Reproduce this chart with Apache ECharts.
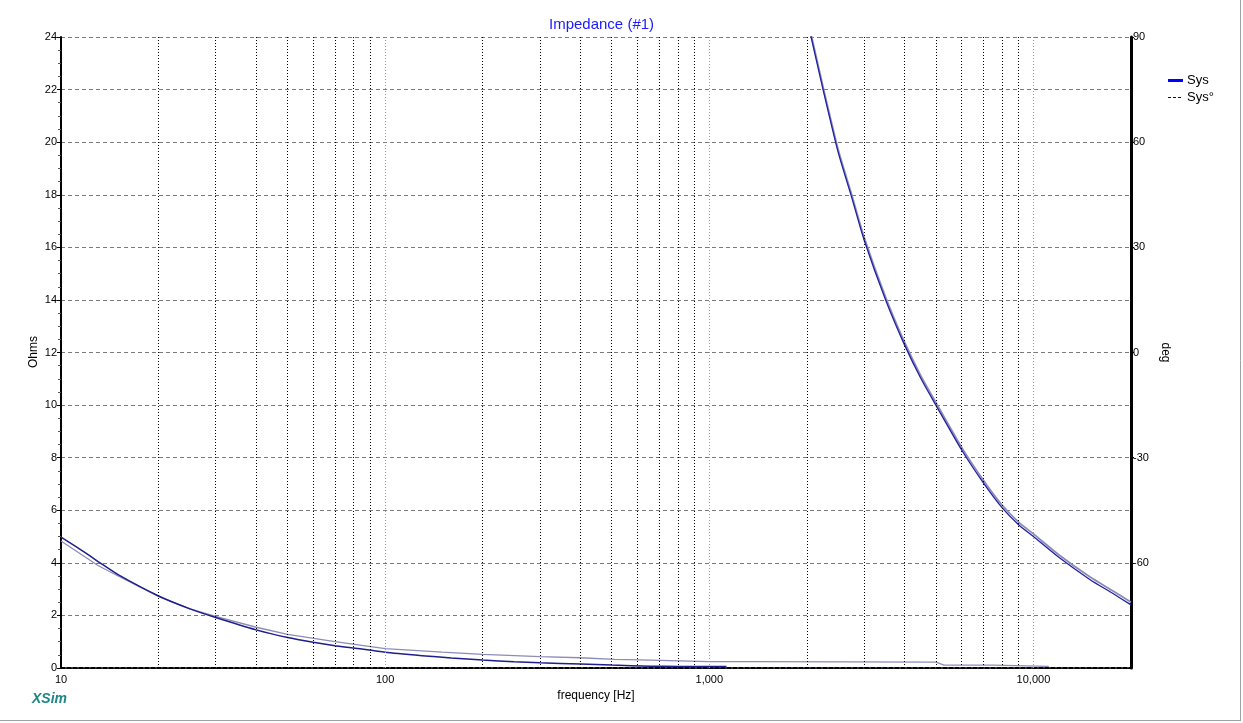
<!DOCTYPE html>
<html>
<head>
<meta charset="utf-8">
<script src="https://cdn.jsdelivr.net/npm/echarts@6/dist/echarts.min.js"></script>
<style>
html,body{margin:0;padding:0;background:#fff;}
#chart{width:1243px;height:723px;}
</style>
</head>
<body>
<div id="chart"></div>
<script>
// ---- data ----
const TITLE = 'Impedance (#1)';
// Sys (magnitude, dark blue) low-frequency part
const SYS_LOW_FREQ = [10, 12, 13.2, 15, 20, 25, 30, 40, 50, 60, 70, 80, 100, 130, 160, 200, 250, 300, 400, 500, 660, 800, 1000, 1130];
const SYS_LOW_VAL  = [4.98, 4.35, 4.0, 3.55, 2.74, 2.25, 1.92, 1.45, 1.16, 0.98, 0.85, 0.76, 0.6, 0.47, 0.38, 0.30, 0.24, 0.2, 0.15, 0.11, 0.07, 0.06, 0.06, 0.06];
// Sys high-frequency part
const SYS_HI_FREQ = [2000, 2061, 2244, 2500, 2750, 3000, 3500, 4000, 4500, 5000, 6000, 7000, 8000, 9000, 10000, 12000, 15000, 17500, 20000];
const SYS_HI_VAL  = [24.6, 24, 22, 19.6, 17.9, 16.3, 14.0, 12.3, 11.0, 10.0, 8.3, 7.05, 6.1, 5.45, 5.0, 4.2, 3.35, 2.85, 2.4];
// Sys° (light) low-frequency part
const SYSD_LOW_FREQ = [10, 13, 15, 20, 25, 30, 40, 50, 70, 100, 150, 200, 300, 400, 510, 660, 810, 820, 1000, 1390, 1400, 5000, 5300, 7500, 7600, 11150];
const SYSD_LOW_VAL  = [4.83, 3.9, 3.5, 2.72, 2.25, 1.96, 1.55, 1.28, 1.0, 0.74, 0.6, 0.52, 0.43, 0.39, 0.33, 0.30, 0.27, 0.25, 0.24, 0.24, 0.22, 0.22, 0.11, 0.11, 0.06, 0.06];
// Sys° high-frequency part
const SYSD_HI_FREQ = [2000, 2061, 2244, 2500, 2750, 3000, 3500, 4000, 4500, 5000, 6000, 7000, 8000, 9000, 10000, 12000, 15000, 17500, 20000];
const SYSD_HI_VAL  = [24.7, 24.1, 22.1, 19.7, 18.0, 16.4, 14.1, 12.4, 11.1, 10.1, 8.4, 7.15, 6.2, 5.55, 5.1, 4.3, 3.45, 2.95, 2.5];
// grid lines / ticks
const X_MINOR_GRID = [20,30,40,50,60,70,80,90,200,300,400,500,600,700,800,900,2000,3000,4000,5000,6000,7000,8000,9000];
const X_MAJOR_GRID = [100, 1000, 10000];
const OHM_MIN = 0, OHM_MAX = 24, OHM_STEP = 2;
const DEG_MIN = -90, DEG_MAX = 90, DEG_STEP = 30;

const zip = (a, b) => a.map((x, i) => [x, b[i]]);
const FONT = '"Liberation Sans", Arial, sans-serif';

const chart = echarts.init(document.getElementById('chart'), null, {renderer: 'canvas'});

const option = {
  backgroundColor: '#ffffff',
  animation: false,
  title: {
    text: TITLE, left: 544, top: 12,
    textStyle: {color: '#1a1aff', fontSize: 15, fontWeight: 'normal', fontFamily: FONT}
  },
  grid: {left: 61, right: 112, top: 37, bottom: 55, containLabel: false},
  xAxis: [{
    type: 'log', logBase: 10, min: 10, max: 20000,
    name: 'frequency [Hz]', nameLocation: 'middle', nameGap: 19,
    nameTextStyle: {color: '#000', fontSize: 12, fontFamily: FONT},
    axisLine: {onZero: false, lineStyle: {color: '#000', width: 2, type: [4, 2]}},
    axisTick: {show: false},
    axisLabel: {
      color: '#000', fontSize: 11, fontFamily: FONT, margin: 6, showMaxLabel: false,
      formatter: v => Math.round(v).toLocaleString('en-US')
    },
    splitLine: {show: false}
  }, {
    type: 'log', logBase: 10, min: 10, max: 20000, position: 'top',
    axisLine: {lineStyle: {color: '#000', width: 1, type: [4, 2]}},
    axisTick: {show: false}, axisLabel: {show: false}, splitLine: {show: false}
  }],
  yAxis: [{
    type: 'value', min: OHM_MIN, max: OHM_MAX, interval: OHM_STEP, position: 'left',
    axisLine: {show: true, lineStyle: {color: '#000', width: 2}},
    axisTick: {show: true, length: 4, lineStyle: {color: '#000'}},
    minorTick: {show: true, splitNumber: 4, length: 3, lineStyle: {color: '#555'}},
    axisLabel: {color: '#000', fontSize: 11, fontFamily: FONT, margin: 4},
    splitLine: {show: true, lineStyle: {color: '#7a7a7a', width: 1, type: [4, 3]}}
  }, {
    type: 'value', min: DEG_MIN, max: DEG_MAX, interval: DEG_STEP, position: 'right',
    name: 'deg', nameLocation: 'middle', nameGap: 26, nameRotate: -90,
    nameTextStyle: {color: '#000', fontSize: 12, fontFamily: FONT},
    axisLine: {show: true, lineStyle: {color: '#000', width: 3}},
    axisTick: {show: true, length: 3, lineStyle: {color: '#000'}},
    axisLabel: {color: '#000', fontSize: 11, fontFamily: FONT, margin: 2, showMinLabel: false},
    splitLine: {show: false}
  }],
  series: [
    {
      name: 'grid', type: 'line', data: [], silent: true,
      markLine: {
        silent: true, symbol: 'none', label: {show: false}, animation: false,
        data: X_MINOR_GRID.map(v => ({xAxis: v, lineStyle: {color: '#000', width: 1, type: [1, 2]}}))
          .concat(X_MAJOR_GRID.map(v => ({xAxis: v, lineStyle: {color: '#9a9a9a', width: 1, type: [1, 2]}})))
      }
    },
    {name: 'Sys°', type: 'line', data: zip(SYSD_LOW_FREQ, SYSD_LOW_VAL), showSymbol: false, smooth: false,
     lineStyle: {color: '#8c8cb8', width: 1.3}, z: 3},
    {name: 'Sys°', type: 'line', data: zip(SYSD_HI_FREQ, SYSD_HI_VAL), showSymbol: false, smooth: 0.2,
     lineStyle: {color: '#8c8cb8', width: 1.8}, z: 3},
    {name: 'Sys', type: 'line', data: zip(SYS_LOW_FREQ, SYS_LOW_VAL), showSymbol: false, smooth: 0.2,
     lineStyle: {color: '#1e1e8c', width: 1.5}, z: 4},
    {name: 'Sys', type: 'line', data: zip(SYS_HI_FREQ, SYS_HI_VAL), showSymbol: false, smooth: 0.2,
     lineStyle: {color: '#2222a0', width: 1.3}, z: 4}
  ],
  graphic: [
    {type: 'text', x: 34, y: 352, rotation: Math.PI / 2,
     style: {text: 'Ohms', fill: '#000', font: '12px ' + FONT, align: 'center', verticalAlign: 'middle'}},
    {type: 'line', shape: {x1: 1168, y1: 80.5, x2: 1183, y2: 80.5}, style: {stroke: '#0000ff', lineWidth: 3}},
    {type: 'text', x: 1187, y: 80, style: {text: 'Sys', fill: '#000', font: '13px ' + FONT, verticalAlign: 'middle'}},
    {type: 'line', shape: {x1: 1168, y1: 97.5, x2: 1183, y2: 97.5}, style: {stroke: '#000080', lineWidth: 1, lineDash: [3, 2]}},
    {type: 'text', x: 1187, y: 97, style: {text: 'Sys°', fill: '#000', font: '13px ' + FONT, verticalAlign: 'middle'}},
    {type: 'text', x: 32, y: 692, style: {text: 'XSim', fill: '#1f8585', font: 'italic bold 14px ' + FONT}},
    {type: 'line', shape: {x1: 0, y1: 720.5, x2: 1240, y2: 720.5}, style: {stroke: '#a0a0a0', lineWidth: 1}},
    {type: 'line', shape: {x1: 1240.5, y1: 0, x2: 1240.5, y2: 721}, style: {stroke: '#a0a0a0', lineWidth: 1}}
  ]
};
chart.setOption(option);
</script>
</body>
</html>
